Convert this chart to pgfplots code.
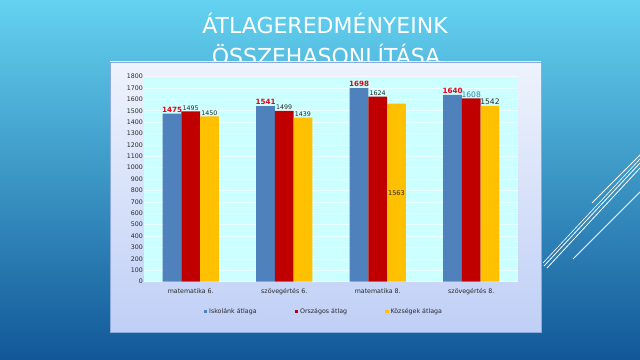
\documentclass[border=0pt]{standalone}
\usepackage{fontspec}
\setmainfont{DejaVu Sans}
\usepackage{pgfplots}
\pgfplotsset{compat=1.18}
\definecolor{bgl}{RGB}{100,210,240}
\definecolor{bgd}{RGB}{18,88,152}
\definecolor{pnlt}{RGB}{238,243,252}
\definecolor{pnlb}{RGB}{192,207,246}
\definecolor{pnlborder}{RGB}{140,170,220}
\definecolor{plotbg}{RGB}{204,255,255}
\definecolor{cblue}{RGB}{79,129,189}
\definecolor{cred}{RGB}{192,0,0}
\definecolor{cyel}{RGB}{255,192,0}
\definecolor{lblred}{RGB}{230,0,20}
\definecolor{lblteal}{RGB}{49,133,156}
\definecolor{txt}{RGB}{40,40,40}
\begin{document}
\begin{tikzpicture}[x=1pt,y=1pt]
\path[use as bounding box] (0,0) rectangle (640,359);
\shade[shading angle=-25, top color=bgl, bottom color=bgd] (0,0) rectangle (640,359);
% decorative lines
\draw[white, line width=0.8pt] (544,93) -- (640,196);
\draw[white, line width=0.8pt] (547,91) -- (640,191);
\draw[white, line width=0.6pt] (543,96) -- (640,200);
\draw[white, line width=0.8pt] (592,156) -- (640,204);
\draw[white, line width=0.8pt] (573,100) -- (640,167);
% title
\node[white, anchor=base, font=\fontsize{22}{24}\selectfont] at (325,325) {ÁTLAGEREDMÉNYEINK};
\node[white, anchor=base, font=\fontsize{22}{24}\selectfont] at (326,294) {ÖSSZEHASONLÍTÁSA};
% panel
\shade[top color=pnlt, bottom color=pnlb] (110,27) rectangle (541,297);
\draw[pnlborder, line width=0.8pt] (110,27) rectangle (541,297);
\begin{axis}[
  at={(154,68)}, anchor=south west,
  scale only axis, width=374pt, height=205pt,
  axis background/.style={fill=plotbg},
  axis line style={draw=none},
  ymin=0, ymax=1800, ytick distance=100,
  xmin=-0.5, xmax=3.5,
  xtick={0,1,2,3},
  xticklabels={matematika 6., szövegértés 6., matematika 8., szövegértés 8.},
  major tick length=0pt,
  ymajorgrids, grid style={white, opacity=0.6, line width=0.5pt},
  tick label style={font=\fontsize{6.3}{7}\selectfont, text=txt},
  xticklabel style={text height=1.6ex, text depth=0.3ex, anchor=north},
  yticklabel style={inner sep=1pt},
  /pgf/number format/assume math mode=true,
  /pgf/number format/set thousands separator={},
  ybar=0pt, bar width=0.2,
  legend columns=3,
  legend style={at={(0.481,-0.146)}, anchor=center, draw=none, fill=none,
    font=\fontsize{6.3}{7}\selectfont, text=txt,
    /tikz/every even column/.append style={column sep=36pt}},
  legend image code/.code={\fill[#1,draw=none] (0pt,-1.7pt) rectangle (3.4pt,1.7pt);},
]
\addplot[fill=cblue, draw=none, bar shift=-0.2] coordinates {(0,1475) (1,1541) (2,1698) (3,1640)};
\addplot[fill=cred, draw=none, bar shift=0] coordinates {(0,1495) (1,1499) (2,1624) (3,1608)};
\addplot[fill=cyel, draw=none, bar shift=0.2] coordinates {(0,1450) (1,1439) (2,1563) (3,1542)};
\legend{Iskolánk átlaga, Országos átlag, Községek átlaga}
% data labels
\begin{scope}[every node/.style={anchor=south, inner sep=1pt}]
\node[text=lblred, font=\bfseries\fontsize{7.2}{8}\selectfont] at (axis cs:-0.2,1475) {1475};
\node[text=lblred, font=\bfseries\fontsize{7.2}{8}\selectfont] at (axis cs:0.8,1541) {1541};
\node[text=lblred, font=\bfseries\fontsize{7.2}{8}\selectfont] at (axis cs:1.8,1698) {1698};
\node[text=lblred, font=\bfseries\fontsize{7.2}{8}\selectfont] at (axis cs:2.8,1640) {1640};
\node[text=txt, font=\fontsize{6.3}{7}\selectfont] at (axis cs:0,1495) {1495};
\node[text=txt, font=\fontsize{6.3}{7}\selectfont] at (axis cs:1,1499) {1499};
\node[text=txt, font=\fontsize{6.3}{7}\selectfont] at (axis cs:2,1624) {1624};
\node[text=lblteal, font=\fontsize{7.6}{8}\selectfont] at (axis cs:3,1608) {1608};
\node[text=txt, font=\fontsize{6.3}{7}\selectfont] at (axis cs:0.2,1450) {1450};
\node[text=txt, font=\fontsize{6.3}{7}\selectfont] at (axis cs:1.2,1439) {1439};
\node[text=txt, font=\fontsize{6.5}{7}\selectfont, anchor=center] at (axis cs:2.2,773) {1563};
\node[text=txt, font=\fontsize{7.6}{8}\selectfont] at (axis cs:3.2,1542) {1542};
\end{scope}
\end{axis}
\end{tikzpicture}
\end{document}
